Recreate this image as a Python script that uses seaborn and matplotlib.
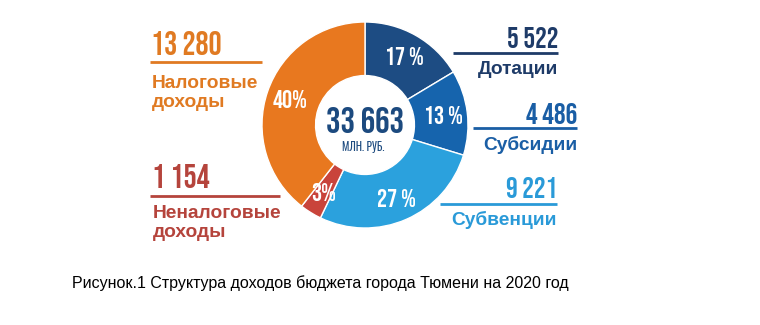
import matplotlib
matplotlib.use("Agg")
import matplotlib.pyplot as plt
import numpy as np
import seaborn as sns

# Revenue structure, mln rubles
categories = ["Дотации", "Субсидии", "Субвенции", "Неналоговые\nдоходы", "Налоговые\nдоходы"]
values = [5522, 4486, 9221, 1154, 13280]
value_labels = ["5 522", "4 486", "9 221", "1 154", "13 280"]
pct_labels = ["17 %", "13 %", "27 %", "3%", "40%"]
total_label = "33 663"
unit_label = "МЛН. РУБ."
caption = "Рисунок.1 Структура доходов бюджета города Тюмени на 2020 год"

sns.set_theme(style="white")
plt.rcParams["font.family"] = ["Liberation Sans", "DejaVu Sans"]

wedge_colors = ["#1d4c83", "#1664ad", "#2ba1dd", "#c9443b", "#e8781f"]
text_colors = ["#1e3b68", "#1a5ea5", "#2a9ad8", "#b5443c", "#e07a22"]
DIGITS = ["Bebas Neue", "Oswald", "DejaVu Sans"]
SMALLCAPS = ["Oswald", "DejaVu Sans"]

W, H = 760, 325
fig = plt.figure(figsize=(W / 100, H / 100), dpi=100)
fig.patch.set_facecolor("white")

# donut
cx, cy, R = 365, 125, 103
pax = fig.add_axes([(cx - R) / W, (H - cy - R) / H, 2 * R / W, 2 * R / H])
wedges, _ = pax.pie(values, colors=wedge_colors, startangle=90, counterclock=False,
                    radius=1.0, wedgeprops=dict(width=0.52, edgecolor="white", linewidth=1.0))
pax.set_xlim(-1, 1)
pax.set_ylim(-1, 1)
pax.set_aspect("equal")
pax.axis("off")

for w, lab in zip(wedges, pct_labels):
    ang = np.deg2rad((w.theta1 + w.theta2) / 2)
    r = 0.77
    pax.text(r * np.cos(ang), r * np.sin(ang), lab, ha="center", va="center",
             color="white", fontsize=18, family=DIGITS)

pax.text(0, 0.05, total_label, ha="center", va="center", color="#1c4a7f",
         fontsize=26, family=DIGITS)
pax.text(-0.02, -0.21, unit_label, ha="center", va="center", color="#1c4a7f",
         fontsize=8, family=SMALLCAPS, fontweight="bold")

# annotation layer in pixel coordinates
ov = fig.add_axes([0, 0, 1, 1], facecolor="none")
ov.set_xlim(0, W)
ov.set_ylim(H, 0)
ov.axis("off")

# (number anchor x, number y, line x0, line x1, line y, label x, label y, align, number size)
layout = [
    (558, 37, 453, 558, 53, 558, 70, "right", 21),
    (577, 113, 473, 577, 128, 577, 145, "right", 21),
    (557, 187, 440, 557, 204, 557, 220, "right", 21),
    (152, 176, 150, 280, 196, 153, 223, "left", 23.5),
    (151, 43, 150, 262, 62, 152, 93, "left", 23.5),
]

for i, (nx, ny, lx0, lx1, ly, tx, ty, ha, nsize) in enumerate(layout):
    c = text_colors[i]
    ov.text(nx, ny, value_labels[i], ha=ha, va="center", color=c,
            fontsize=nsize, family=DIGITS)
    ov.plot([lx0, lx1], [ly, ly], color=c, lw=2, solid_capstyle="butt")
    ov.text(tx, ty, categories[i], ha=ha, va="center", color=c,
            fontsize=13.8, fontweight="bold", linespacing=1.2)

ov.text(72, 283, caption, ha="left", va="center", color="black", fontsize=11.5)

fig.savefig("out.png", dpi=100, facecolor="white")
